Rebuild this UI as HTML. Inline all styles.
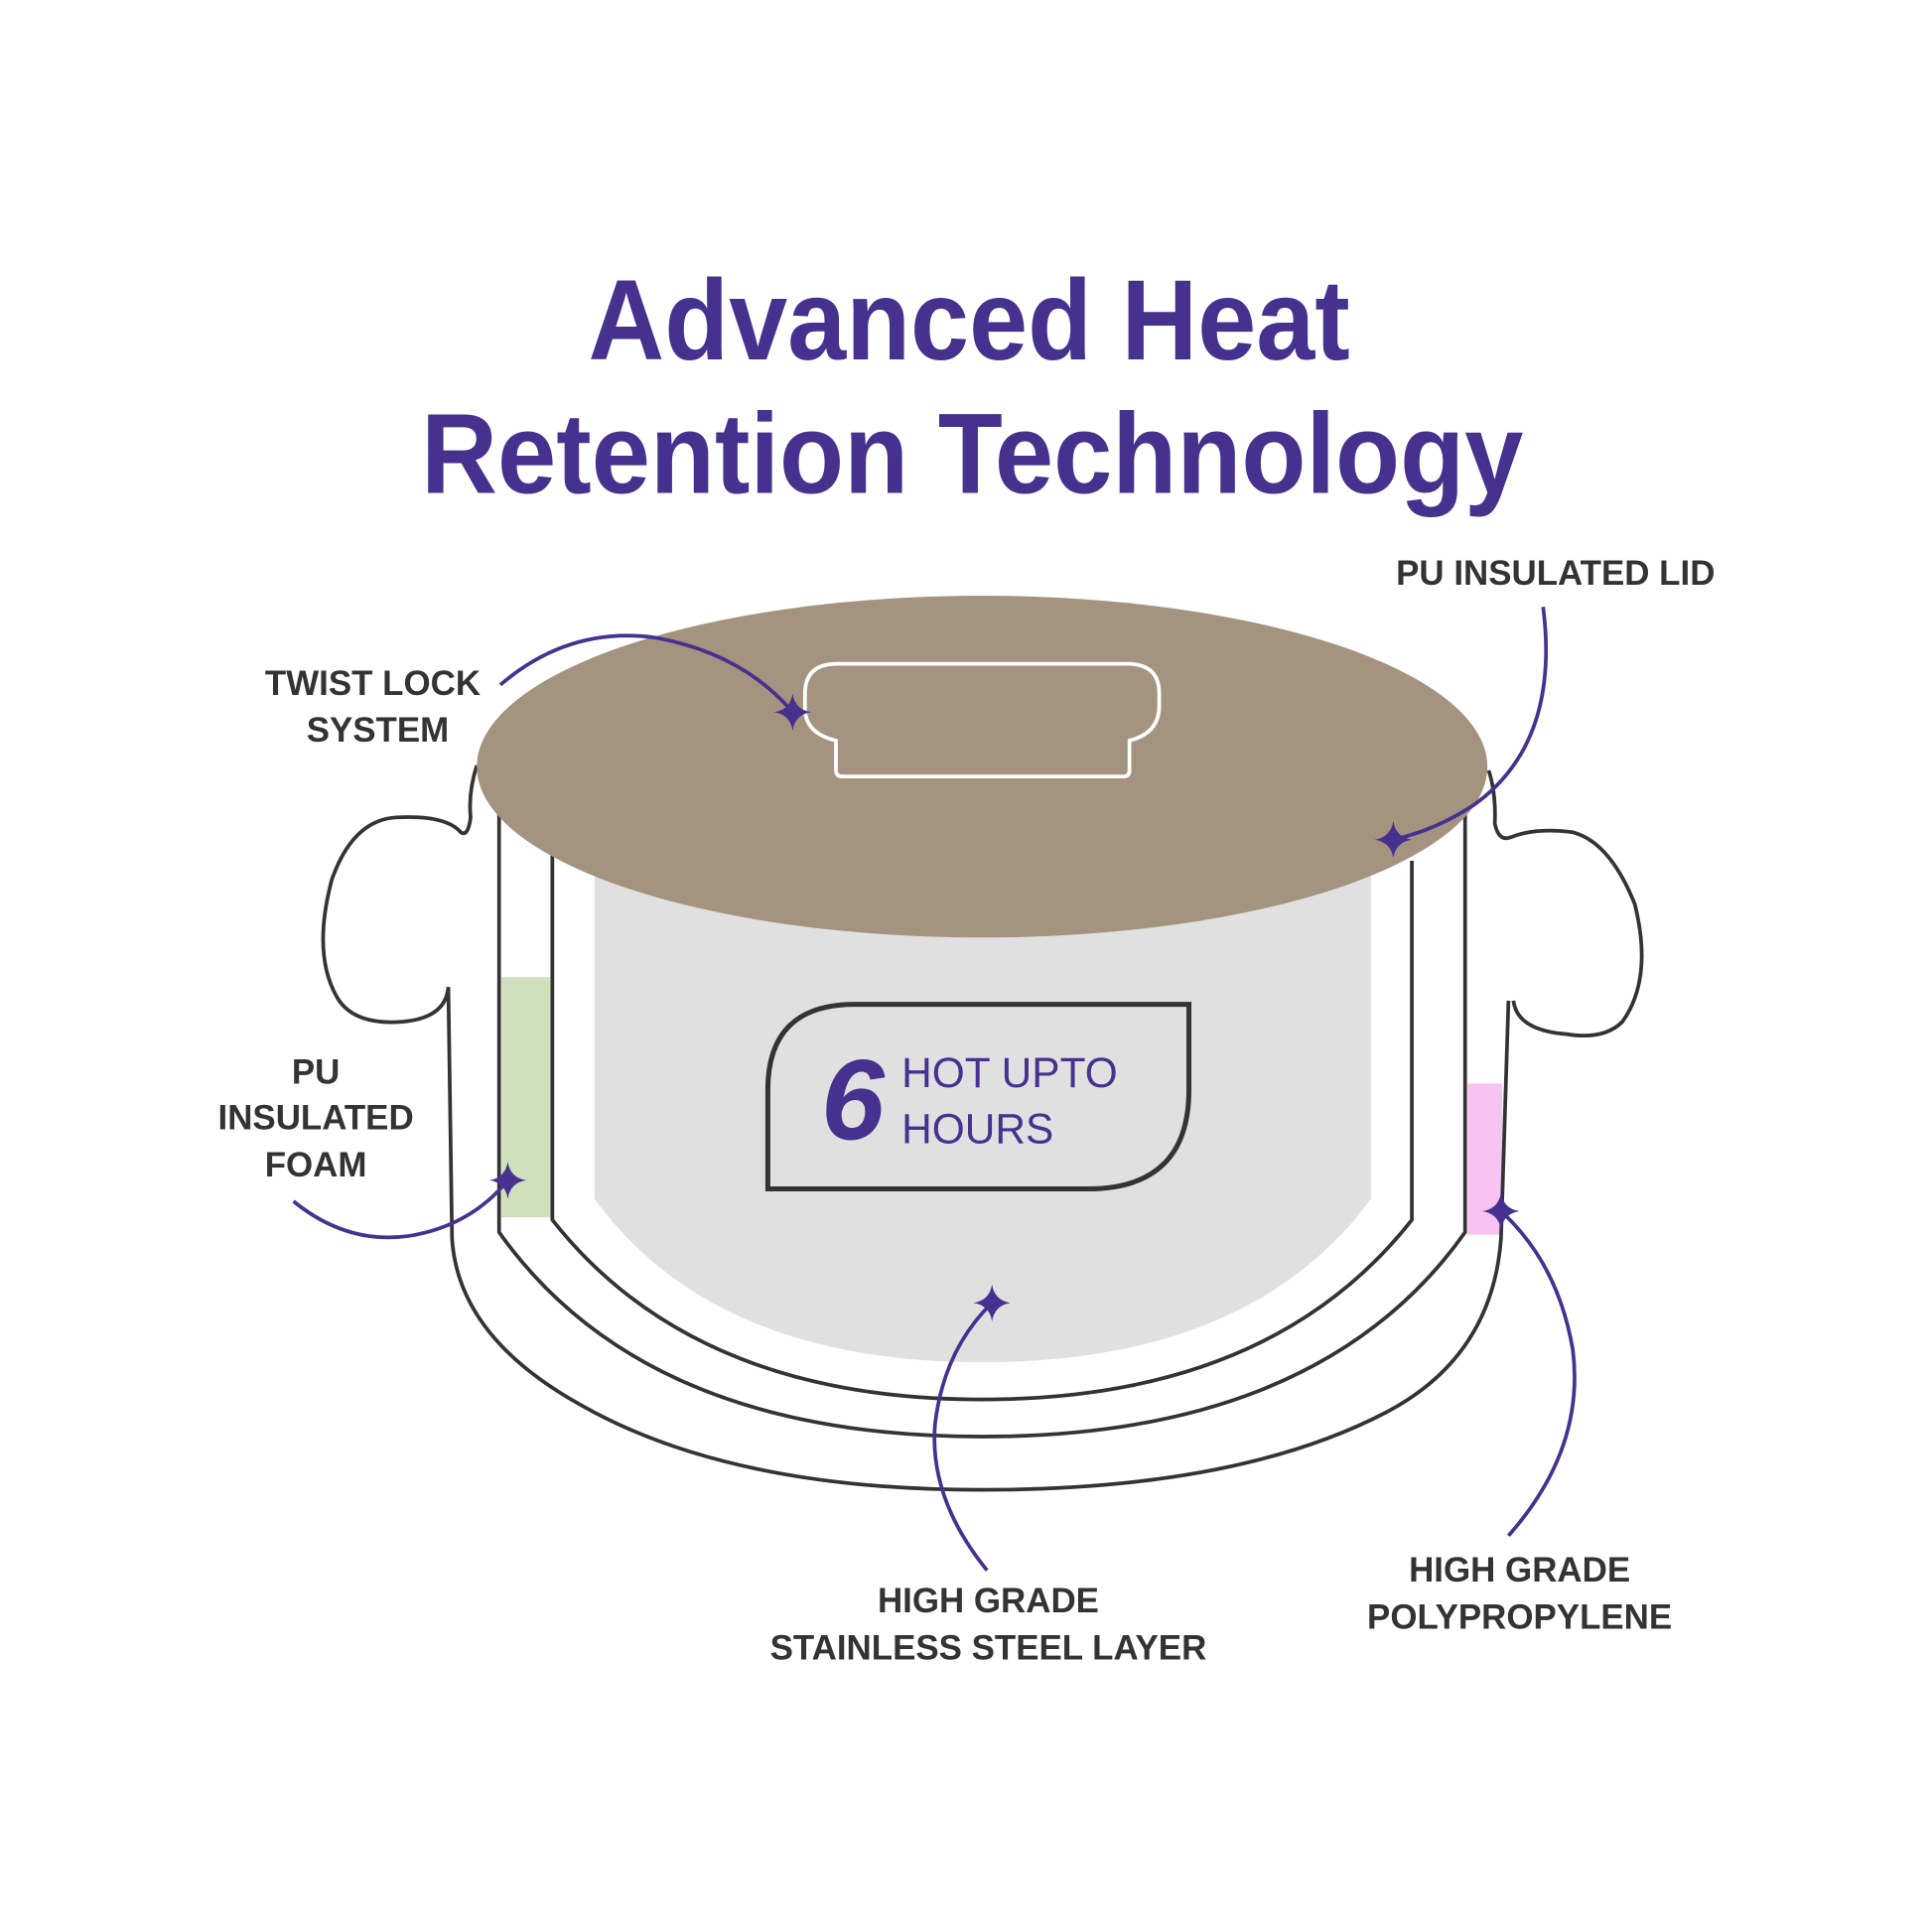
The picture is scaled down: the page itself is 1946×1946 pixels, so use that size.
<!DOCTYPE html>
<html><head><meta charset="utf-8"><style>
html,body{margin:0;padding:0;background:#fff;}
svg{display:block;}
text{font-family:"Liberation Sans",sans-serif;font-weight:bold;}
</style></head><body>
<svg width="1946" height="1946" viewBox="0 0 1560 1560" xmlns="http://www.w3.org/2000/svg">
<defs>
<path id="st" d="M0,-15 Q2,-2 15,0 Q2,2 0,15 Q-2,2 -15,0 Q-2,-2 0,-15 Z" fill="#47318f"/>
</defs>
<rect width="1560" height="1560" fill="#fff"/>
<text x="475" y="290" font-size="92" fill="#47318f" textLength="615" lengthAdjust="spacingAndGlyphs">Advanced Heat</text>
<text x="340" y="398" font-size="92" fill="#47318f" textLength="890" lengthAdjust="spacingAndGlyphs">Retention Technology</text>

<!-- gray inner -->
<path d="M480,690 L1107,690 L1107,968 Q1010,1100 793,1100 Q576,1100 480,968 Z" fill="#e0e0e0"/>
<!-- colored layers -->
<rect x="405" y="789" width="40" height="194" fill="#d0e0bd"/>
<rect x="1185" y="875" width="28" height="122" fill="#f6c3f2"/>

<g fill="none" stroke="#333" stroke-width="3">
<!-- inner line -->
<path d="M446,690 L446,985 Q560,1130 793,1130 Q1026,1130 1140,985 L1140,695"/>
<!-- middle line -->
<path d="M403,655 L403,995 Q520,1160 793,1160 Q1066,1160 1183,995 L1183,655"/>
<!-- outer line -->
<path d="M362,797 L365,1000 Q370,1080 470,1135 Q590,1203 793,1203 Q1000,1203 1120,1140 Q1205,1095 1212,1000 L1218,808"/>
<!-- left handle -->
<path d="M385,618 Q378,640 380,660 Q378,676 372,672 Q360,658 320,660 Q285,662 268,710 Q252,770 272,805 Q285,828 325,825 Q360,822 362,797"/>
<!-- right handle -->
<path d="M1202,622 Q1208,640 1207,665 Q1210,680 1220,676 Q1240,668 1270,672 Q1300,680 1320,730 Q1335,790 1310,825 Q1295,840 1265,835 Q1225,832 1222,808"/>
<!-- badge -->
<path d="M620,960 L620,880 Q620,811 690,811 L960,811 L960,880 Q960,960 878,960 Z" stroke-width="4"/>
</g>

<!-- lid -->
<ellipse cx="793" cy="619" rx="408" ry="138" fill="#a3937f"/>
<path d="M675,598 L675,622 Q675,627 680,627 L907,627 Q912,627 912,622 L912,598 Q936,592 936,570 L936,560 Q936,536 910,536 L676,536 Q650,536 650,560 L650,572 Q650,592 675,598 Z" fill="none" stroke="#fff" stroke-width="3"/>

<!-- badge text -->
<text x="663" y="920" font-size="92" font-style="italic" fill="#47318f">6</text>
<text x="728" y="878" font-size="34" fill="#47318f" font-weight="normal" style="font-weight:500">HOT UPTO</text>
<text x="728" y="923" font-size="34" fill="#47318f" style="font-weight:500">HOURS</text>

<!-- connectors -->
<g fill="none" stroke="#47318f" stroke-width="3">
<path d="M404,553 Q460,505 530,515 Q600,528 640,575"/>
<path d="M1246,490 Q1260,600 1190,650 Q1160,670 1125,678"/>
<path d="M237,970 Q280,1005 330,998 Q380,990 410,953"/>
<path d="M797,1268 Q750,1210 755,1150 Q762,1090 801,1052"/>
<path d="M1218,1240 Q1280,1170 1270,1090 Q1258,1020 1212,978"/>
</g>
<use href="#st" x="640" y="575"/>
<use href="#st" x="1125" y="678"/>
<use href="#st" x="410" y="953"/>
<use href="#st" x="801" y="1052"/>
<use href="#st" x="1212" y="978"/>

<!-- labels -->
<g fill="#333" font-size="28" text-anchor="middle">
<text x="301" y="561">TWIST LOCK</text>
<text x="305" y="599">SYSTEM</text>
<text x="1256" y="472">PU INSULATED LID</text>
<text x="255" y="875">PU</text>
<text x="255" y="912">INSULATED</text>
<text x="255" y="950">FOAM</text>
<text x="798" y="1302">HIGH GRADE</text>
<text x="798" y="1340">STAINLESS STEEL LAYER</text>
<text x="1227" y="1277">HIGH GRADE</text>
<text x="1227" y="1315">POLYPROPYLENE</text>
</g>
</svg>
</body></html>
